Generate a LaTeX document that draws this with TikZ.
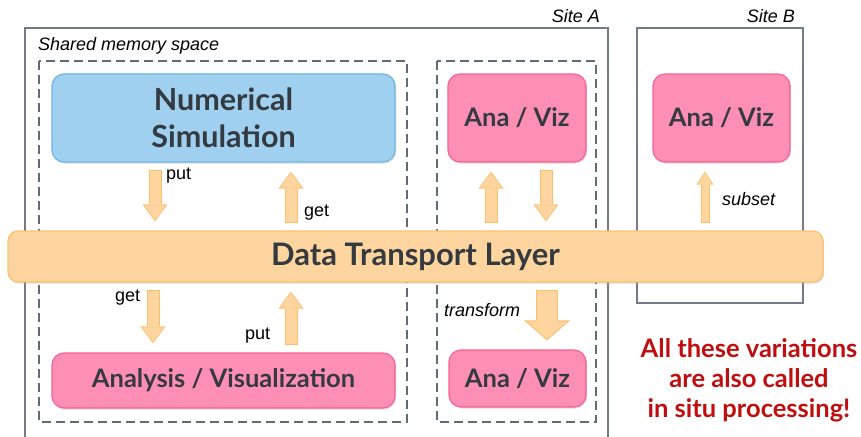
\documentclass[tikz,border=0pt]{standalone}
\usepackage{fontspec}
\setmainfont{Lato}
\newfontfamily\helv{Liberation Sans}
\usetikzlibrary{arrows.meta,positioning,shadows}
\definecolor{simblue}{HTML}{A0D0F0}
\definecolor{simedge}{HTML}{6CB4E2}
\definecolor{anapink}{HTML}{FE8FB4}
\definecolor{anaedge}{HTML}{F7628F}
\definecolor{dtlfill}{HTML}{FED59F}
\definecolor{dtledge}{HTML}{FBC172}
\definecolor{flowfill}{HTML}{FED59F}
\definecolor{flowedge}{HTML}{FBBF6C}
\definecolor{ink}{HTML}{343A40}
\definecolor{sitegray}{HTML}{707C87}
\definecolor{dashgray}{HTML}{606B75}
\definecolor{alert}{HTML}{C00D0D}

\begin{document}
\begin{tikzpicture}[x=1pt,y=-1pt,
  box/.style={rounded corners=12pt, line width=1.2pt, text=ink, align=center, inner sep=0pt,
    font=\bfseries\fontsize{25.5}{30}\selectfont,
    drop shadow={shadow xshift=1.2pt, shadow yshift=-1.5pt, opacity=.25}},
  simbox/.style={box, fill=simblue, draw=simedge},
  anabox/.style={box, fill=anapink, draw=anaedge},
  dtlbox/.style={box, rounded corners=10pt, fill=dtlfill, draw=dtledge,
    font=\bfseries\fontsize{31}{34}\selectfont},
  site/.style={draw=sitegray, line width=1.5pt},
  zone/.style={draw=dashgray, line width=1.3pt, dash pattern=on 9pt off 5pt},
  note/.style={font=\helv\fontsize{18}{20}\selectfont, inner sep=0pt},
  tag/.style={note, font=\helv\itshape\fontsize{18}{20}\selectfont},
  fatarrow/.style args={#1/#2/#3}{draw=flowfill, line width=#1-2pt,
    shorten <=8pt, shorten >=10.5pt,
    -{Triangle[width=#2, length=#3, line width=0pt, scale=.86]},
    preaction={draw=flowedge, line width=#1, shorten <=7pt, shorten >=9pt,
      -{Triangle[width=#2, length=#3, line width=0pt]}}},
  flow/.style={fatarrow=13pt/25pt/17pt}]
\useasboundingbox (0,0) rectangle (861,436);

% sites and memory spaces
\draw[site] (25,440) |- (608,28) -- (608,440);
\draw[site] (637,28) rectangle (803,303);
\node[tag, anchor=base east] (siteA) at (600,23) {Site A};
\node[tag, anchor=base east] (siteB) at (795,23) {Site B};
\node[tag, anchor=base west] (shm) at (38,51) {Shared memory space};
\draw[zone] (39,61) rectangle (407,422);
\draw[zone] (437,61) rectangle (596,422);

% components
\node[simbox, minimum width=343pt, minimum height=88pt,
  font=\bfseries\fontsize{30.5}{37}\selectfont] (sim) at (223.5,118) {Numerical\\Simulation};
\node[anabox, minimum width=138pt, minimum height=88pt] (vizA) at (517,118) {Ana / Viz};
\node[anabox, minimum width=137pt, minimum height=88pt] (vizB) at (721.5,118) {Ana / Viz};
\node[dtlbox, minimum width=815pt, minimum height=51pt] (dtl) at (415.5,256.5) {Data Transport Layer};
\node[anabox, minimum width=343pt, minimum height=55pt] (ana) at (223.5,380.5) {Analysis / Visualization};
\node[anabox, minimum width=137pt, minimum height=57pt] (vizC) at (517.5,378.5) {Ana / Viz};

% data flows
\draw[flow] ([xshift=-68.5pt]sim.south) -- ([xshift=-68.5pt]sim.south |- dtl.north);
\draw[flow] ([xshift=67.5pt]sim.south |- dtl.north) -- ([xshift=67.5pt]sim.south);
\draw[flow] ([xshift=-70.5pt]ana.north |- dtl.south) -- ([xshift=-70.5pt]ana.north);
\draw[flow] ([xshift=67.5pt]ana.north) -- ([xshift=67.5pt]ana.north |- dtl.south);
\draw[flow] ([xshift=-26pt]vizA.south |- dtl.north) -- ([xshift=-26pt]vizA.south);
\draw[flow] ([xshift=29pt]vizA.south) -- ([xshift=29pt]vizA.south |- dtl.north);
\draw[fatarrow=9pt/17pt/13pt] ([xshift=-16.5pt]vizB.south |- dtl.north) -- ([xshift=-16.5pt]vizB.south);
\draw[fatarrow=22pt/46pt/20pt] ([xshift=29.5pt]vizC.north |- dtl.south) -- ([xshift=29.5pt]vizC.north);

\node[note, anchor=base west] (put1) at (166,179) {put};
\node[note, anchor=base west] (get1) at (304,216) {get};
\node[note, anchor=base west] (get2) at (115,301) {get};
\node[note, anchor=base west] (put2) at (245,339) {put};
\node[tag, anchor=base west] (subset) at (722,205) {subset};
\node[tag, anchor=base west] (transform) at (444,316) {transform};

\node[font=\bfseries\fontsize{25.5}{30}\selectfont, text=alert, align=center]
  (remark) at (749,380.5) {All these variations\\are also called\\in situ processing!};
\end{tikzpicture}
\end{document}
